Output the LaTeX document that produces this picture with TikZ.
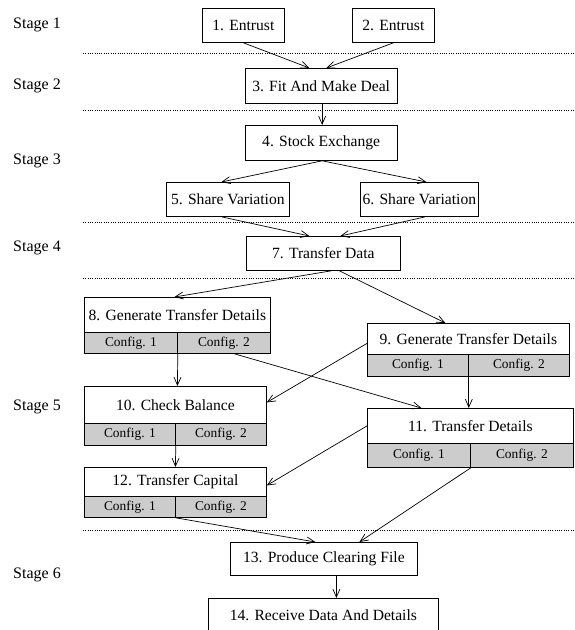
\documentclass[tikz,border=0pt]{standalone}
\usepackage{fontspec}
\setmainfont{Liberation Serif}
\usetikzlibrary{arrows.meta}
\begin{document}
\begin{tikzpicture}[x=1pt,y=-1pt,
  box/.style={draw, line width=0.8pt, inner sep=0pt, anchor=north west, font=\fontsize{15.6}{18}\selectfont},
  cfg/.style={box, fill=gray!40, font=\fontsize{13.4}{16}\selectfont},
  arr/.style={-{Straight Barb[length=8pt,width=7pt]}, line width=0.7pt},
  sepline/.style={line width=0.7pt, dash pattern=on 0.7pt off 1.6pt},
  stagelbl/.style={anchor=west, inner sep=0pt, font=\fontsize{16}{19}\selectfont}]
\useasboundingbox (0,0) rectangle (574,630);
\clip (0,0) rectangle (574,630);

% stage labels
\node[stagelbl] (s1) at (13,25) {Stage 1};
\node[stagelbl] (s2) at (13,86) {Stage 2};
\node[stagelbl] (s3) at (13,161) {Stage 3};
\node[stagelbl] (s4) at (13,248) {Stage 4};
\node[stagelbl] (s5) at (13,407) {Stage 5};
\node[stagelbl] (s6) at (13,575) {Stage 6};

% separators
\foreach \yy [count=\i] in {53,110,222,278,530}{
  \coordinate (d\i l) at (83,\yy);
  \coordinate (d\i r) at (574,\yy);
  \draw[sepline] (d\i l) -- (d\i r);
}

% boxes
\node[box, minimum width=82pt, minimum height=34pt] (n1) at (202,8) {1. Entrust};
\node[box, minimum width=82pt, minimum height=34pt] (n2) at (352,8) {2. Entrust};
\node[box, minimum width=152.5pt, minimum height=35pt] (n3) at (244.5,68) {3. Fit And Make Deal};
\node[box, minimum width=152.5pt, minimum height=35pt] (n4) at (244.5,125) {4. Stock Exchange};
\node[box, minimum width=123pt, minimum height=34pt] (n5) at (166,182) {5. Share Variation};
\node[box, minimum width=118pt, minimum height=34pt] (n6) at (360,182) {6. Share Variation};
\node[box, minimum width=154pt, minimum height=34pt] (n7) at (246,236) {7. Transfer Data};

\node[box, minimum width=186pt, minimum height=35pt] (n8) at (84,297) {8. Generate Transfer Details};
\node[cfg, minimum width=93pt, minimum height=21pt] (n8a) at (84,332) {Config. 1};
\node[cfg, minimum width=93pt, minimum height=21pt] (n8b) at (177,332) {Config. 2};
\draw[line width=1.2pt] (n8.south west) -- (n8.south east);

\node[box, minimum width=202pt, minimum height=31pt] (n9) at (367,323) {9. Generate Transfer Details};
\node[cfg, minimum width=101pt, minimum height=22pt] (n9a) at (367,354) {Config. 1};
\node[cfg, minimum width=101pt, minimum height=22pt] (n9b) at (468,354) {Config. 2};

\node[box, minimum width=182pt, minimum height=37pt] (n10) at (84,386) {10. Check Balance};
\node[cfg, minimum width=91pt, minimum height=22pt] (n10a) at (84,423) {Config. 1};
\node[cfg, minimum width=91pt, minimum height=22pt] (n10b) at (175,423) {Config. 2};

\node[box, minimum width=206pt, minimum height=35pt] (n11) at (367,408) {11. Transfer Details};
\node[cfg, minimum width=103pt, minimum height=24pt] (n11a) at (367,443) {Config. 1};
\node[cfg, minimum width=103pt, minimum height=24pt] (n11b) at (470,443) {Config. 2};

\node[box, minimum width=182pt, minimum height=29pt] (n12) at (84,467) {12. Transfer Capital};
\node[cfg, minimum width=91pt, minimum height=21pt] (n12a) at (84,496) {Config. 1};
\node[cfg, minimum width=91pt, minimum height=21pt] (n12b) at (175,496) {Config. 2};

\node[box, minimum width=187pt, minimum height=33pt] (n13) at (230,542) {13. Produce Clearing File};
\node[box, minimum width=230pt, minimum height=34pt] (n14) at (208,598) {14. Receive Data And Details};

% connectors
\draw[arr] (n1.south) -- ([xshift=-11.75pt]n3.north);
\draw[arr] (n2.south) -- ([xshift=5.25pt]n3.north);
\draw[arr] ([xshift=1pt]n3.south) -- ([xshift=1pt]n4.north);
\draw[arr] ([xshift=1pt]n4.south) -- ([xshift=-6.5pt]n5.north);
\draw[arr] ([xshift=1pt]n4.south) -- ([xshift=7pt]n6.north);
\draw[arr] ([xshift=-6.5pt]n5.south) -- ([xshift=-14pt]n7.north);
\draw[arr] ([xshift=6pt]n6.south) -- ([xshift=17pt]n7.north);
\draw[arr] ([xshift=8pt]n7.south) -- ([xshift=-3pt]n8.north);
\draw[arr] ([xshift=16pt]n7.south) -- ([xshift=-23pt]n9.north);
\draw[arr] (n8a.south east) -- ([xshift=2pt]n10.north);
\draw[arr] ([xshift=10.5pt]n8b.south) -- ([xshift=-49pt]n11.north);
\draw[arr] ([yshift=-4.5pt]n9.west) -- ([yshift=2.5pt]n10.east);
\draw[arr] (n9a.south east) -- (n11.north -| n9a.south east);
\draw[arr] (n10a.south east) -- (n12.north);
\draw[arr] (n11.west) -- ([yshift=-3.5pt]n12.east);
\draw[arr] (n12a.south east) -- ([xshift=-8.5pt]n13.north);
\draw[arr] (n11a.south east) -- ([xshift=35.5pt]n13.north);
\draw[arr] ([xshift=12.5pt]n13.south) -- ([xshift=13pt]n14.north);
\end{tikzpicture}
\end{document}
